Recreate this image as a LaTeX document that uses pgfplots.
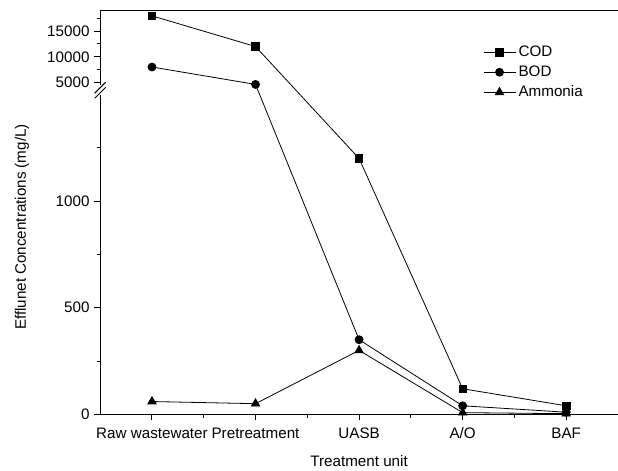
\documentclass[border=0pt]{standalone}
\usepackage{fontspec}
\setmainfont{Liberation Sans}
\usepackage{pgfplots}
\pgfplotsset{compat=1.18}

% 1 px of the reference = 0.75pt
% broken y axis: 0-1500 kept, 1500-4000 squeezed into 33 units,
% 4000-19000 scaled by 0.024 (data values stay raw, see y filter)
\begin{document}
\begin{tikzpicture}[font=\fontsize{11.4}{13.5}\selectfont]
\useasboundingbox (0,0) rectangle (463.5pt,353.25pt);
\begin{axis}[
  at={(75.15pt,42.5pt)}, anchor=south west,
  scale only axis, width=388.35pt, height=302.7pt,
  xmin=-0.5, xmax=4.5,
  ymin=0, ymax=1893,
  y filter/.expression={min(y,1500)+0.0132*max(0,min(y,4000)-1500)+0.024*max(0,y-4000)},
  axis x line*=bottom, axis y line*=left,
  axis line style={draw=none},
  clip=false,
  tick align=outside,
  major tick length=4.5pt, minor tick length=2.5pt,
  tick style={black, line width=0.75pt},
  xtick={0,1,2,3,4},
  xticklabels={Raw wastewater,Pretreatment,UASB,A/O,BAF},
  minor xtick={0.5,1.5,2.5,3.5},
  xticklabel style={yshift=-2pt},
  ytick={0,500,1000,1557,1677,1797},
  yticklabels={0,500,1000,5000,10000,15000},
  minor ytick={250,750,1250,1617,1737,1857},
  xlabel={Treatment unit},
  ylabel={Efflunet Concentrations (mg/L)},
  xlabel style={at={(axis description cs:0.5,-0.116)}, anchor=center},
  ylabel style={at={(axis description cs:-0.151,0.464)}, anchor=center},
  legend style={at={(axis description cs:0.739,0.92)}, anchor=north west,
    draw=none, fill=none, inner sep=0pt, row sep=1.5pt},
  legend cell align=left,
  legend image code/.code={\draw[mark repeat=2,mark phase=2,#1] plot coordinates {(0pt,0pt) (12pt,0pt) (24pt,0pt)};},
  every axis plot/.append style={black, line width=0.6pt},
]
\addplot[mark=square*, mark size=2.8pt, mark options={fill=black}] coordinates {
  (0,18000) (1,12000) (2,1200) (3,120) (4,40)
};
\addlegendentry{COD}
\addplot[mark=*, mark size=3pt, mark options={fill=black}] coordinates {
  (0,8000) (1,4600) (2,350) (3,40) (4,10)
};
\addlegendentry{BOD}
\addplot[mark=triangle*, mark size=3.6pt, mark options={fill=black}] coordinates {
  (0,60) (1,50) (2,300) (3,8) (4,3)
};
\addlegendentry{Ammonia}

% frame and the break on the left axis
\draw[line width=0.75pt] (axis cs:-0.5,0) -- (axis cs:4.5,0);
\draw[line width=0.75pt] (axis cs:-0.5,1893) -- (axis cs:4.5,1893);
\draw[line width=0.75pt] (axis cs:-0.5,0) -- (axis cs:-0.5,1500);
\draw[line width=0.75pt] (axis cs:-0.5,1545) -- (axis cs:-0.5,1893);
\draw[line width=0.75pt] ([shift={(-4.1pt,-6pt)}]axis cs:-0.5,1520) -- ++(8.2pt,8.2pt);
\draw[line width=0.75pt] ([shift={(-4.1pt,-2.2pt)}]axis cs:-0.5,1520) -- ++(8.2pt,8.2pt);
\end{axis}
\end{tikzpicture}
\end{document}
